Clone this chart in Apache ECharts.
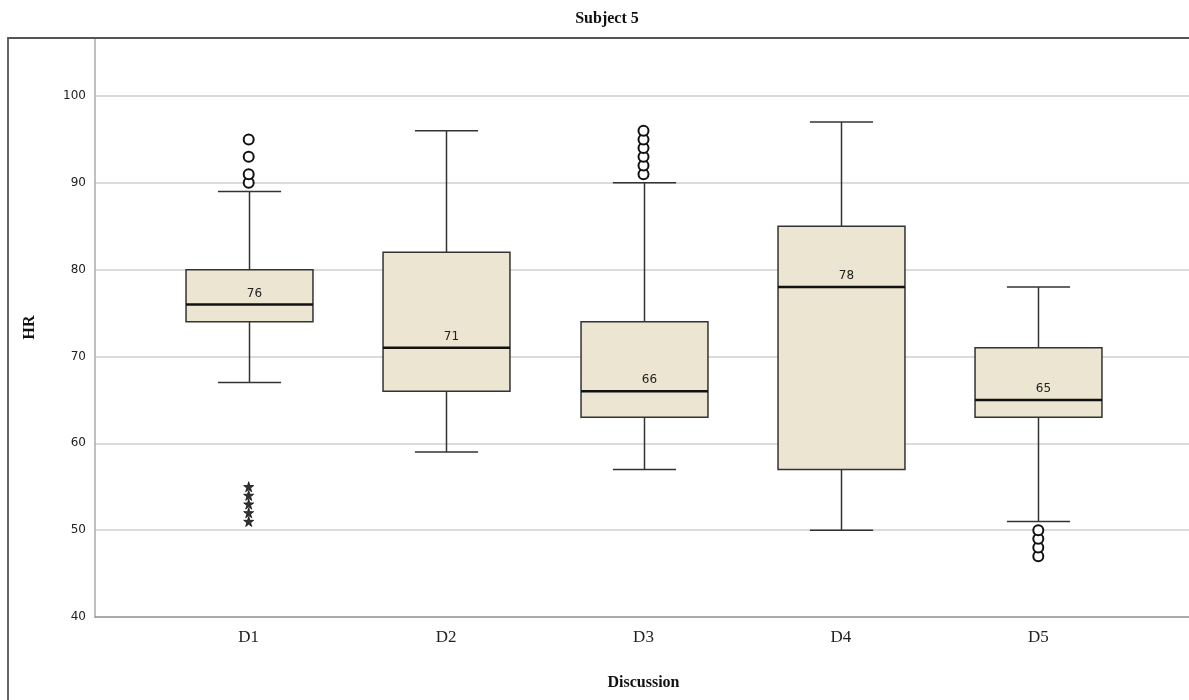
<!DOCTYPE html>
<html>
<head>
<meta charset="utf-8">
<script src="https://cdn.jsdelivr.net/npm/echarts@6/dist/echarts.min.js"></script>
<style>html,body{margin:0;padding:0;background:#fff;}#c{width:1189px;height:700px;}</style>
</head>
<body>
<div id="c"></div>
<script>
const categories = ['D1', 'D2', 'D3', 'D4', 'D5'];
const whiskerLow = [67, 59, 57, 50, 51];
const q1 = [74, 66, 63, 57, 63];
const medians = [76, 71, 66, 78, 65];
const q3 = [80, 82, 74, 85, 71];
const whiskerHigh = [89, 96, 90, 97, 78];
const circleOutliers = {
  D1: [90, 91, 93, 95],
  D3: [91, 92, 93, 94, 95, 96],
  D5: [47, 48, 49, 50]
};
const starOutliers = {
  D1: [51, 52, 53, 54, 55]
};
const yTicks = [40, 50, 60, 70, 80, 90, 100];

const yMin = 40, yMax = 106.68;

const boxData = categories.map((c, i) => [i, whiskerLow[i], q1[i], medians[i], q3[i], whiskerHigh[i]]);
const circleData = [];
Object.keys(circleOutliers).forEach(k => {
  const i = categories.indexOf(k);
  circleOutliers[k].forEach(v => circleData.push([i, v]));
});
const starData = [];
Object.keys(starOutliers).forEach(k => {
  const i = categories.indexOf(k);
  starOutliers[k].forEach(v => starData.push([i, v]));
});

const chart = echarts.init(document.getElementById('c'), null, {renderer: 'canvas'});
const serif = '"Liberation Serif", "DejaVu Serif", serif';
const sans = '"DejaVu Sans", "Liberation Sans", sans-serif';

const starPath = 'path://M50,0 L61,35 L98,35 L68,57 L79,91 L50,70 L21,91 L32,57 L2,35 L39,35 Z';

const option = {
  backgroundColor: '#fff',
  animation: false,
  title: {
    text: 'Subject 5',
    left: 602, top: 6, textAlign: 'center',
    textStyle: {fontFamily: serif, fontWeight: 'bold', fontSize: 16, color: '#111'}
  },
  graphic: [{
    type: 'rect', z: 100, silent: true,
    shape: {x: 8, y: 38, width: 1300, height: 800},
    style: {fill: 'none', stroke: '#555', lineWidth: 1.8}
  }],
  grid: [
    {left: 95, top: 38, width: 1100, bottom: 83, show: false},
    {left: 150, top: 38, width: 987, bottom: 83, show: false}
  ],
  xAxis: [
    {gridIndex: 0, type: 'value', min: 0, max: 1, show: true,
     axisLine: {show: true, onZero: false, lineStyle: {color: '#999', width: 1.5}},
     axisTick: {show: false}, axisLabel: {show: false}, splitLine: {show: false}},
    {gridIndex: 1, type: 'category', data: categories, boundaryGap: true,
     axisLine: {show: false}, axisTick: {show: false},
     axisLabel: {fontFamily: serif, fontSize: 17, color: '#222', margin: 12},
     name: 'Discussion', nameLocation: 'middle', nameGap: 58,
     nameTextStyle: {fontFamily: serif, fontWeight: 'bold', fontSize: 16, color: '#111'}}
  ],
  yAxis: [
    {gridIndex: 0, type: 'value', min: yMin, max: yMax, interval: 10,
     axisLine: {show: true, lineStyle: {color: '#aaa', width: 1.5}},
     axisTick: {show: false},
     axisLabel: {fontFamily: sans, fontSize: 12, color: '#222', margin: 9, showMaxLabel: false,
       formatter: v => (yTicks.indexOf(v) >= 0 ? String(v) : '')},
     splitLine: {show: true, lineStyle: {color: '#cfcfcf', width: 1.5}},
     name: 'HR', nameLocation: 'middle', nameGap: 57,
     nameTextStyle: {fontFamily: serif, fontWeight: 'bold', fontSize: 16, color: '#111'}},
    {gridIndex: 1, type: 'value', min: yMin, max: yMax, show: false, splitLine: {show: false}}
  ],
  series: [
    {
      type: 'custom', xAxisIndex: 1, yAxisIndex: 1, z: 5,
      data: boxData,
      encode: {x: 0, y: [1, 2, 3, 4, 5]},
      renderItem: function (params, api) {
        const i = api.value(0);
        const lo = api.coord([i, api.value(1)]);
        const b1 = api.coord([i, api.value(2)]);
        const md = api.coord([i, api.value(3)]);
        const b3 = api.coord([i, api.value(4)]);
        const hi = api.coord([i, api.value(5)]);
        const band = api.size([1, 0])[0];
        const bw = band * 0.643, cw = band * 0.32;
        const x = Math.round(lo[0]) + 0.5;
        const lineStyle = {stroke: '#333', lineWidth: 1.5};
        return {
          type: 'group',
          children: [
            {type: 'line', shape: {x1: x, y1: lo[1], x2: x, y2: b1[1]}, style: lineStyle},
            {type: 'line', shape: {x1: x, y1: b3[1], x2: x, y2: hi[1]}, style: lineStyle},
            {type: 'line', shape: {x1: x - cw / 2, y1: lo[1], x2: x + cw / 2, y2: lo[1]}, style: lineStyle},
            {type: 'line', shape: {x1: x - cw / 2, y1: hi[1], x2: x + cw / 2, y2: hi[1]}, style: lineStyle},
            {type: 'rect', shape: {x: x - bw / 2, y: b3[1], width: bw, height: b1[1] - b3[1]},
             style: {fill: '#ece5d1', stroke: '#333', lineWidth: 1.5}},
            {type: 'line', shape: {x1: x - bw / 2, y1: md[1], x2: x + bw / 2, y2: md[1]},
             style: {stroke: '#111', lineWidth: 2.5}},
            {type: 'text', x: x + 5, y: md[1] - 11,
             style: {text: String(api.value(3)), fill: '#222', font: '12px "DejaVu Sans", sans-serif',
                     textAlign: 'center', textVerticalAlign: 'middle'}}
          ]
        };
      }
    },
    {
      type: 'scatter', xAxisIndex: 1, yAxisIndex: 1, z: 6,
      data: circleData, symbol: 'circle', symbolSize: 10,
      itemStyle: {color: '#fff', borderColor: '#111', borderWidth: 2, opacity: 1}
    },
    {
      type: 'scatter', xAxisIndex: 1, yAxisIndex: 1, z: 6,
      data: starData, symbol: starPath, symbolSize: 10,
      itemStyle: {color: '#333', borderColor: '#111', borderWidth: 0.8, opacity: 1}
    }
  ]
};
chart.setOption(option);
</script>
</body>
</html>
